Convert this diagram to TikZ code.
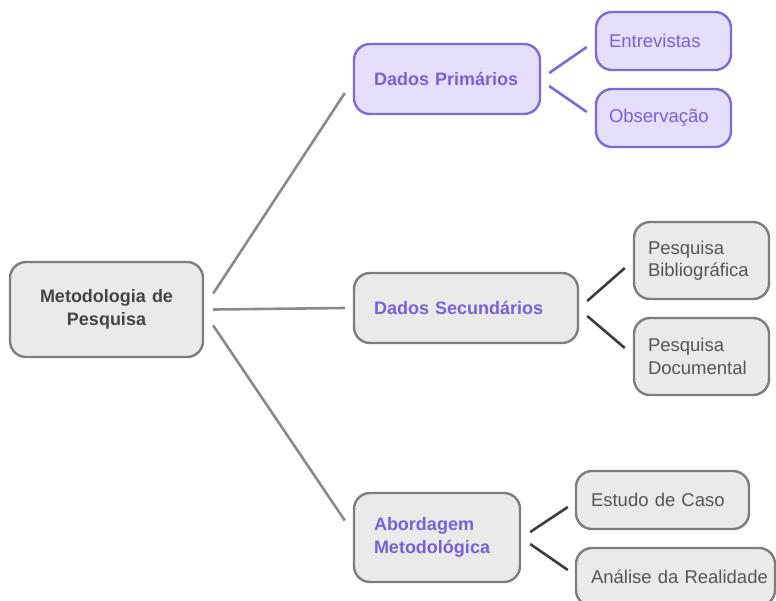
\documentclass[tikz,border=0pt]{standalone}
\usepackage{fontspec}
\usepackage{xcolor}
\usetikzlibrary{calc}
\setmainfont{Liberation Sans}

\definecolor{boxfill}{RGB}{234,234,234}
\definecolor{boxline}{RGB}{125,125,125}
\definecolor{graytext}{RGB}{85,85,85}
\definecolor{roottext}{RGB}{68,68,68}
\definecolor{purplefill}{RGB}{229,222,253}
\definecolor{purpleline}{RGB}{124,106,214}
\definecolor{purpletext}{RGB}{120,97,214}
\definecolor{rootlink}{RGB}{138,138,138}
\definecolor{darklink}{RGB}{60,60,60}

\begin{document}
\begin{tikzpicture}[x=1pt,y=-1pt,
  box/.style={draw, rounded corners=16pt, line width=2.4pt, inner ysep=0pt,
    align=left, font=\fontsize{18.5}{22.5}\selectfont},
  graybox/.style={box, draw=boxline, fill=boxfill, text=graytext},
  purplebox/.style={box, draw=purpleline, fill=purplefill, text=purpletext},
  heading/.style={font=\fontsize{18}{22.5}\selectfont\bfseries},
  link/.style={line width=2.6pt}]

\useasboundingbox (0,0) rectangle (776,600);

% root
\node[graybox, heading, text=roottext, align=center, inner xsep=10pt,
  text width=173pt, minimum height=95pt] (root) at (106.5,309.5) {Metodologia de\\Pesquisa};

% first level
\node[purplebox, heading, inner xsep=20pt, text width=146pt, minimum height=70pt]
  (prim) at (447,79) {Dados Primários};
\node[graybox, heading, text=purpletext, inner xsep=20pt, text width=184pt, minimum height=70pt]
  (sec) at (466,308) {Dados Secundários};
\node[graybox, heading, text=purpletext, inner xsep=20pt, text width=126pt, minimum height=89pt]
  (abo) at (437,537.5) {Abordagem\\Metodológica};

% second level
\node[purplebox, inner xsep=13pt, text width=109pt, minimum height=58pt]
  (entr) at (663.5,41) {Entrevistas};
\node[purplebox, inner xsep=13pt, text width=109pt, minimum height=58pt]
  (obs) at (663.5,118) {Observação};
\node[graybox, inner xsep=14pt, text width=107pt, minimum height=77pt]
  (bib) at (701.5,260.5) {Pesquisa\\Bibliográfica};
\node[graybox, inner xsep=14pt, text width=107pt, minimum height=77pt]
  (doc) at (701.5,356.5) {Pesquisa\\Documental};
\node[graybox, inner xsep=15pt, text width=143pt, minimum height=58pt]
  (est) at (662.5,500) {Estudo de Caso};
\node[graybox, inner xsep=15pt, text width=169pt, minimum height=58pt]
  (ana) at (675.5,577) {\mbox{Análise da Realidade}};

% connectors
\draw[link, rootlink] ($(root.east)+(9,-16)$) -- ($(prim.west)+(-8,14)$);
\draw[link, rootlink] ($(root.east)+(9,0)$) -- ($(sec.west)+(-8,0)$);
\draw[link, rootlink] ($(root.east)+(9,16)$) -- ($(abo.west)+(-8,-17)$);

\draw[link, purpleline] ($(prim.east)+(8,-6)$) -- ($(entr.west)+(-8,6)$);
\draw[link, purpleline] ($(prim.east)+(8,7)$) -- ($(obs.west)+(-8,-6)$);

\draw[link, darklink] ($(sec.east)+(8,-7)$) -- ($(bib.west)+(-8,7.5)$);
\draw[link, darklink] ($(sec.east)+(8,8)$) -- ($(doc.west)+(-8,-8.5)$);

\draw[link, darklink] ($(abo.east)+(9,-5.5)$) -- ($(est.west)+(-7,7)$);
\draw[link, darklink] ($(abo.east)+(9,6.5)$) -- ($(ana.west)+(-7,-7)$);

\end{tikzpicture}
\end{document}
